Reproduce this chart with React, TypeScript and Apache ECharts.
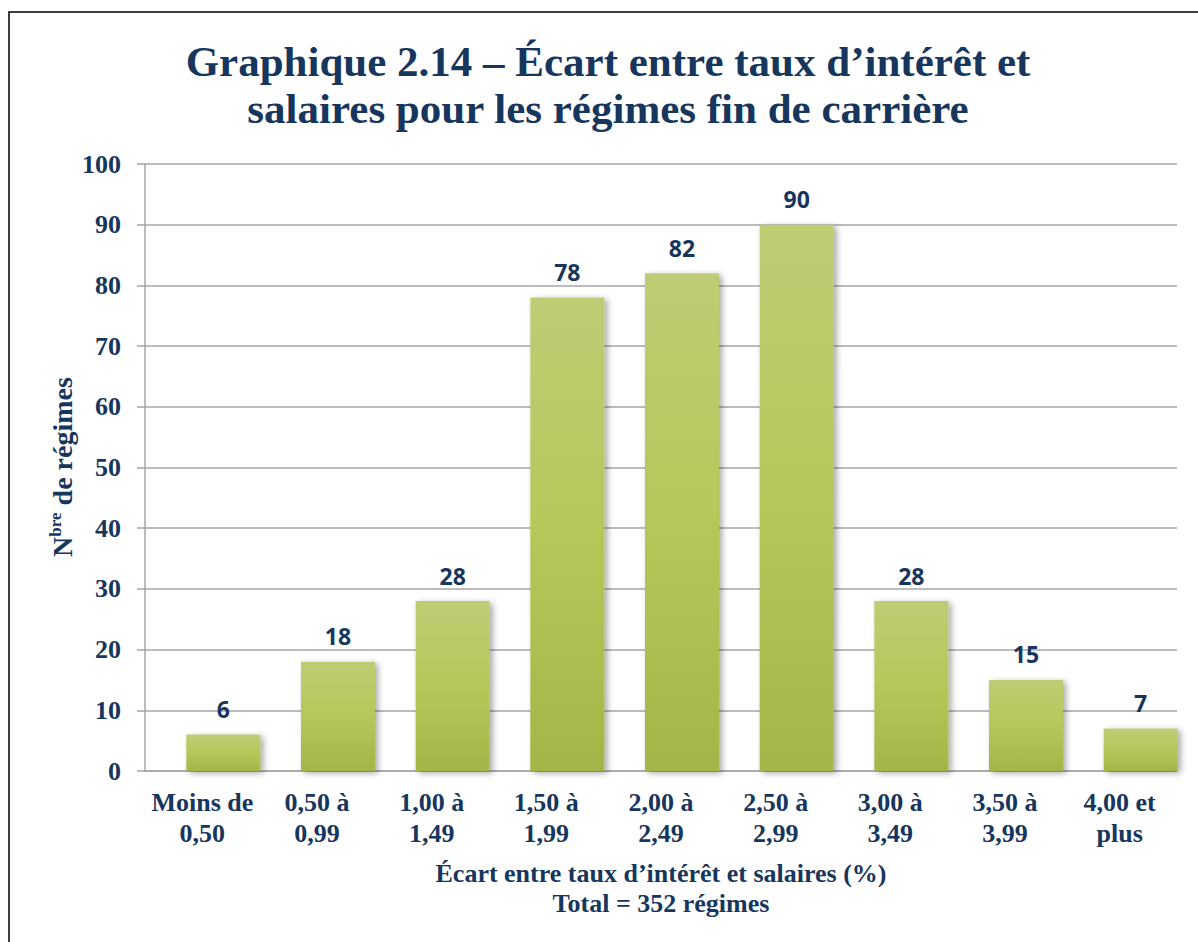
import React, { useEffect, useRef } from "react";
import * as echarts from "echarts";

const categories = [
  "Moins de\n0,50",
  "0,50 à\n0,99",
  "1,00 à\n1,49",
  "1,50 à\n1,99",
  "2,00 à\n2,49",
  "2,50 à\n2,99",
  "3,00 à\n3,49",
  "3,50 à\n3,99",
  "4,00 et\nplus",
];
const values = [6, 18, 28, 78, 82, 90, 28, 15, 7];
const titleLines = [
  "Graphique 2.14 – Écart entre taux d’intérêt et",
  "salaires pour les régimes fin de carrière",
];
const xTitle = "Écart entre taux d’intérêt et salaires (%)\nTotal = 352 régimes";

const NAVY = "#17365d";
const SERIF = "'Liberation Serif', 'Times New Roman', serif";
const GRID_COLOR = "#a6a6ab";

export default function App() {
  const ref = useRef<HTMLDivElement>(null);
  useEffect(() => {
    if (!ref.current) return;
    const chart = echarts.init(ref.current, null, { renderer: "svg" });
    const grid = { top: 164, height: 607, width: 1032 };
    chart.setOption({
      animation: false,
      backgroundColor: "#ffffff",
      grid: [
        { ...grid, left: 145 },
        { ...grid, left: 166 },
      ],
      xAxis: [
        {
          type: "category",
          gridIndex: 0,
          data: categories,
          axisLine: { show: true, lineStyle: { color: GRID_COLOR, width: 1.5 } },
          axisTick: { show: false },
          axisLabel: {
            color: NAVY,
            fontFamily: SERIF,
            fontWeight: "bold",
            fontSize: 26,
            lineHeight: 31,
            margin: 16,
            interval: 0,
          },
        },
        {
          type: "category",
          gridIndex: 1,
          data: categories,
          show: false,
        },
      ],
      yAxis: [
        {
          type: "value",
          gridIndex: 0,
          min: 0,
          max: 100,
          interval: 10,
          axisLine: { show: true, lineStyle: { color: GRID_COLOR, width: 1.5 } },
          axisTick: { show: true, length: 8, lineStyle: { color: GRID_COLOR, width: 1.5 } },
          splitLine: { show: true, lineStyle: { color: GRID_COLOR, width: 1.5 } },
          axisLabel: {
            color: NAVY,
            fontFamily: SERIF,
            fontWeight: "bold",
            fontSize: 26,
            margin: 24,
          },
        },
        {
          type: "value",
          gridIndex: 1,
          min: 0,
          max: 100,
          show: false,
          splitLine: { show: false },
        },
      ],
      series: [
        {
          type: "bar",
          xAxisIndex: 1,
          yAxisIndex: 1,
          data: values,
          barWidth: 74,
          itemStyle: {
            color: {
              type: "linear",
              x: 0,
              y: 0,
              x2: 0,
              y2: 1,
              colorStops: [
                { offset: 0, color: "#bfcc74" },
                { offset: 0.5, color: "#b6c75a" },
                { offset: 1, color: "#a5b447" },
              ],
            },
            shadowColor: "rgba(0,0,0,0.35)",
            shadowBlur: 6,
            shadowOffsetX: 3,
            shadowOffsetY: 2,
          },
          label: {
            show: true,
            position: "top",
            distance: 14,
            color: NAVY,
            fontFamily: "'Open Sans', sans-serif",
            fontWeight: "bold",
            fontSize: 23,
          },
        },
      ],
      graphic: [
        {
          type: "rect",
          shape: { x: 9, y: 12, width: 1300, height: 1000 },
          style: { fill: "none", stroke: "#000", lineWidth: 1.5 },
          silent: true,
        },
        {
          type: "text",
          x: 608,
          y: 38,
          style: {
            text: titleLines.join("\n"),
            fill: NAVY,
            font: `bold 43px ${SERIF}`,
            lineHeight: 47,
            textAlign: "center",
            textVerticalAlign: "top",
          },
        },
        {
          type: "text",
          x: 661,
          y: 858,
          style: {
            text: xTitle,
            fill: NAVY,
            font: `bold 26px ${SERIF}`,
            lineHeight: 30,
            textAlign: "center",
            textVerticalAlign: "top",
          },
        },
        {
          type: "text",
          x: 62,
          y: 467,
          rotation: Math.PI / 2,
          style: {
            text: "{n|N}{s|bre}{n| de régimes}",
            fill: NAVY,
            textAlign: "center",
            textVerticalAlign: "middle",
            rich: {
              n: {
                fontFamily: SERIF,
                fontWeight: "bold",
                fontSize: 28,
                lineHeight: 30,
                fill: NAVY,
              },
              s: {
                fontFamily: SERIF,
                fontWeight: "bold",
                fontSize: 17,
                lineHeight: 30,
                verticalAlign: "top",
                fill: NAVY,
              },
            },
          },
        },
      ],
    });
    return () => chart.dispose();
  }, []);
  return (
    <div
      ref={ref}
      style={{ position: "fixed", left: 0, top: 0, width: 1198, height: 942 }}
    />
  );
}
